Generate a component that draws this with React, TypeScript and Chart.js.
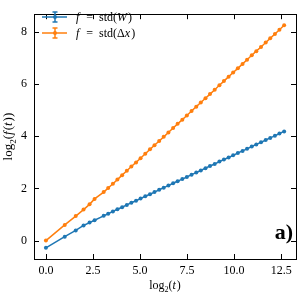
import React, { useEffect, useRef } from "react";
import { Chart, registerables } from "chart.js";
Chart.register(...registerables);

// log2(t) positions of the samples
const xLog2T = [
  0, 1, 1.585, 2, 2.32, 2.585, 3.07, 3.31, 3.56, 3.8, 4.05, 4.3, 4.54, 4.79, 5.03, 5.28,
  5.53, 5.77, 6.02, 6.26, 6.51, 6.76, 7.0, 7.25, 7.49, 7.74, 7.99, 8.23, 8.48, 8.72,
  8.97, 9.22, 9.46, 9.71, 9.95, 10.2, 10.45, 10.69, 10.94, 11.18, 11.43, 11.68, 11.92,
  12.17, 12.41, 12.66,
];
// log2(std(W))
const stdW = [
  -0.28, 0.15, 0.39, 0.58, 0.69, 0.78, 0.95, 1.03, 1.12, 1.2, 1.28, 1.37, 1.45, 1.53,
  1.61, 1.7, 1.78, 1.86, 1.95, 2.03, 2.11, 2.2, 2.28, 2.36, 2.44, 2.53, 2.61, 2.69, 2.78,
  2.86, 2.94, 3.03, 3.11, 3.19, 3.27, 3.36, 3.44, 3.52, 3.61, 3.69, 3.77, 3.86, 3.94,
  4.02, 4.11, 4.19,
];
// log2(std(Δx))
const stdDx = [
  0, 0.6, 0.94, 1.19, 1.39, 1.6, 1.86, 2.02, 2.18, 2.34, 2.51, 2.68, 2.84, 3.0, 3.16,
  3.33, 3.5, 3.66, 3.82, 3.98, 4.15, 4.32, 4.48, 4.64, 4.8, 4.97, 5.14, 5.3, 5.46, 5.62,
  5.79, 5.96, 6.12, 6.29, 6.45, 6.61, 6.78, 6.94, 7.11, 7.27, 7.43, 7.6, 7.76, 7.93,
  8.09, 8.26,
];
const xTicks = [0, 2.5, 5, 7.5, 10, 12.5];
const yTicks = [0, 2, 4, 6, 8];
const seriesNames = ["f = std(W)", "f = std(Δx)"];
const panelLabel = "a)";

const BLUE = "#1f77b4";
const ORANGE = "#ff7f0e";
const FAM = '"Liberation Serif", serif';

type Seg = { t: string; it?: boolean; sub?: boolean };

function drawRich(ctx: CanvasRenderingContext2D, segs: Seg[], x: number, y: number, size: number, align: "left" | "center") {
  const fontOf = (s: Seg) => `${s.it ? "italic " : ""}${s.sub ? Math.round(size * 0.7) : size}px ${FAM}`;
  let w = 0;
  segs.forEach((s) => {
    ctx.font = fontOf(s);
    w += ctx.measureText(s.t).width + (s.it ? 1 : 0);
  });
  let cx = align === "center" ? x - w / 2 : x;
  ctx.textAlign = "left";
  ctx.textBaseline = "alphabetic";
  segs.forEach((s) => {
    ctx.font = fontOf(s);
    ctx.fillText(s.t, cx, s.sub ? y + size * 0.28 : y);
    cx += ctx.measureText(s.t).width + (s.it ? 1 : 0);
  });
}

const decor = {
  id: "decor",
  afterDraw(chart: any) {
    const { ctx, chartArea: a, scales } = chart;
    ctx.save();
    ctx.strokeStyle = "#000";
    ctx.lineWidth = 1;
    const L = 5;
    const line = (x1: number, y1: number, x2: number, y2: number) => {
      ctx.beginPath();
      ctx.moveTo(x1, y1);
      ctx.lineTo(x2, y2);
      ctx.stroke();
    };
    xTicks.forEach((v) => {
      const px = Math.round(scales.x.getPixelForValue(v)) + 0.5;
      line(px, a.bottom, px, a.bottom - L);
      line(px, a.top, px, a.top + L);
    });
    yTicks.forEach((v) => {
      const py = Math.round(scales.y.getPixelForValue(v)) + 0.5;
      line(a.left, py, a.left + L, py);
      line(a.right, py, a.right - L, py);
    });
    ctx.strokeRect(Math.round(a.left) + 0.5, Math.round(a.top) + 0.5, Math.round(a.right - a.left), Math.round(a.bottom - a.top));

    ctx.fillStyle = "#000";
    // x title
    drawRich(ctx, [{ t: "log" }, { t: "2", sub: true }, { t: "(" }, { t: "t", it: true }, { t: ")" }], (a.left + a.right) / 2, 289, 12, "center");
    // y title
    ctx.save();
    ctx.translate(12, (a.top + a.bottom) / 2);
    ctx.rotate(-Math.PI / 2);
    drawRich(ctx, [{ t: "log" }, { t: "2", sub: true }, { t: "(" }, { t: "f", it: true }, { t: "(" }, { t: "t", it: true }, { t: "))" }], 0, 0, 13, "center");
    ctx.restore();

    // legend
    const legendSegs: Seg[][] = [
      [{ t: "f", it: true }, { t: "\u2002=\u2002std(" }, { t: "W", it: true }, { t: ")" }],
      [{ t: "f", it: true }, { t: "\u2002=\u2002std(Δ" }, { t: "x", it: true }, { t: ")" }],
    ];
    const colors = [BLUE, ORANGE];
    legendSegs.forEach((segs, i) => {
      const yc = 17 + i * 16;
      const c = colors[i];
      ctx.strokeStyle = c;
      ctx.fillStyle = c;
      ctx.lineWidth = 1.5;
      line(42, yc, 67, yc);
      line(55, yc - 5, 55, yc + 5);
      line(52.5, yc - 5, 57.5, yc - 5);
      line(52.5, yc + 5, 57.5, yc + 5);
      ctx.beginPath();
      ctx.arc(55, yc, 2, 0, Math.PI * 2);
      ctx.fill();
      ctx.fillStyle = "#000";
      drawRich(ctx, segs, 76, yc + 4, 12, "left");
    });

    // panel label
    ctx.fillStyle = "#000";
    ctx.font = `bold 22px ${FAM}`;
    ctx.textAlign = "right";
    ctx.textBaseline = "alphabetic";
    ctx.fillText(panelLabel, 293, 239);
    ctx.restore();
  },
};

export default function App() {
  const ref = useRef<HTMLCanvasElement>(null);
  useEffect(() => {
    document.body.style.margin = "0";
    const canvas = ref.current!;
    const chart = new Chart(canvas, {
      type: "line",
      data: {
        datasets: [
          {
            label: seriesNames[0],
            data: xLog2T.map((x, i) => ({ x, y: stdW[i] })),
            borderColor: BLUE,
            backgroundColor: BLUE,
            borderWidth: 1.5,
            pointRadius: 2,
            pointBorderWidth: 0,
            pointBackgroundColor: BLUE,
          },
          {
            label: seriesNames[1],
            data: xLog2T.map((x, i) => ({ x, y: stdDx[i] })),
            borderColor: ORANGE,
            backgroundColor: ORANGE,
            borderWidth: 1.5,
            pointRadius: 2,
            pointBorderWidth: 0,
            pointBackgroundColor: ORANGE,
          },
        ],
      },
      options: {
        responsive: false,
        animation: false,
        devicePixelRatio: 1,
        layout: { padding: { top: 3, right: 3.5, left: 0, bottom: 0 } },
        plugins: { legend: { display: false }, tooltip: { enabled: false } },
        scales: {
          x: {
            type: "linear",
            min: -0.633,
            max: 13.29,
            afterBuildTicks: (s: any) => {
              s.ticks = xTicks.map((v) => ({ value: v }));
            },
            afterFit: (s: any) => {
              s.height = 41;
            },
            ticks: {
              callback: (v: any) => Number(v).toFixed(1),
              font: { family: FAM, size: 12 },
              color: "#000",
              maxRotation: 0,
              autoSkip: false,
              padding: 5,
            },
            grid: { display: false, drawTicks: false },
            border: { display: false },
          },
          y: {
            type: "linear",
            min: -0.707,
            max: 8.687,
            afterBuildTicks: (s: any) => {
              s.ticks = yTicks.map((v) => ({ value: v }));
            },
            afterFit: (s: any) => {
              s.width = 34;
            },
            ticks: {
              callback: (v: any) => String(v),
              font: { family: FAM, size: 12 },
              color: "#000",
              autoSkip: false,
              padding: 7,
            },
            grid: { display: false, drawTicks: false },
            border: { display: false },
          },
        },
      },
      plugins: [decor],
    });
    return () => chart.destroy();
  }, []);
  return <canvas ref={ref} width={300} height={300} style={{ display: "block" }} />;
}
